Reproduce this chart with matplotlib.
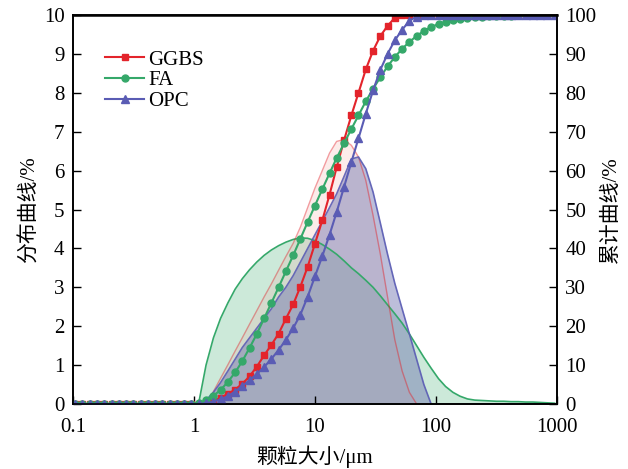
import matplotlib
matplotlib.use("Agg")
import matplotlib.pyplot as plt

plt.rcParams['font.family'] = ['Liberation Serif', 'Noto Sans CJK SC']
plt.rcParams['axes.unicode_minus'] = False

# particle size bins (um)
sizes = [0.105, 0.120, 0.138, 0.158, 0.182, 0.209, 0.240, 0.275, 0.316, 0.363,
         0.417, 0.479, 0.550, 0.631, 0.724, 0.832, 0.955,
         1.10, 1.26, 1.45, 1.66, 1.91, 2.19, 2.51, 2.88, 3.31, 3.80,
         4.37, 5.01, 5.75, 6.61, 7.59, 8.71, 10.0, 11.5, 13.2, 15.1,
         17.4, 20.0, 22.9, 26.3, 30.2, 34.7, 39.8, 45.7, 52.5, 60.3,
         69.2, 79.4, 91.2, 105, 120, 138, 158, 182, 209, 240,
         275, 316, 363, 417, 479, 550, 631, 724, 832, 955]

# distribution (%)
ggbs_dist = [0.0] * 17 + [
    0.0, 0.0, 0.32, 0.66, 1.01, 1.36, 1.70, 2.05, 2.40, 2.75,
    3.09, 3.44, 3.79, 4.13, 4.55, 5.05, 5.55, 6.0, 6.45, 6.75,
    6.8, 6.65, 6.35, 5.75, 4.85, 3.85, 2.75, 1.65, 0.85, 0.3,
    0.0] + [0.0] * 19
fa_dist = [0.0] * 17 + [
    0.05, 1.0, 1.7, 2.2, 2.6, 2.95, 3.22, 3.45, 3.65, 3.82,
    3.96, 4.07, 4.16, 4.23, 4.27, 4.26, 4.2, 4.1, 3.98, 3.85,
    3.68, 3.5, 3.35, 3.18, 3.0, 2.78, 2.55, 2.32, 2.08, 1.8,
    1.5, 1.2, 0.92, 0.65, 0.45, 0.3, 0.2, 0.13, 0.1, 0.09,
    0.08, 0.07, 0.07, 0.06, 0.06, 0.05, 0.05, 0.04, 0.03, 0.02]
opc_dist = [0.0] * 17 + [
    0.0, 0.1, 0.3, 0.55, 0.85, 1.15, 1.45, 1.7, 1.95, 2.2,
    2.45, 2.75, 3.0, 3.3, 3.65, 4.0, 4.35, 4.7, 5.05, 5.4,
    5.85, 6.3, 6.35, 6.05, 5.45, 4.65, 3.85, 3.1, 2.45, 1.8,
    1.15, 0.5, 0.0] + [0.0] * 17

# cumulative (%)
ggbs_cum = [0.0] * 17 + [
    0.0, 0.3, 0.8, 1.6, 2.6, 3.7, 5.2, 7.1, 9.6, 12.5,
    15.2, 18.1, 21.9, 25.6, 30.2, 35.3, 41.2, 47.2, 53.8, 60.8,
    67.8, 74.2, 80.0, 86.0, 90.8, 94.6, 97.2, 99.3, 100.0] + [100.0] * 21
fa_cum = [0.0] * 17 + [
    0.2, 1.0, 2.1, 3.6, 5.7, 8.1, 11.0, 14.4, 18.0, 22.0,
    26.0, 30.0, 34.1, 38.2, 42.5, 46.8, 51.0, 55.2, 59.3, 63.2,
    67.0, 70.7, 74.2, 77.8, 81.0, 84.0, 86.8, 89.2, 91.3, 93.1,
    94.6, 95.9, 96.9, 97.7, 98.3, 98.8, 99.1, 99.3, 99.5, 99.6,
    99.7, 99.75, 99.8, 99.85, 99.9, 99.9, 99.95, 100.0, 100.0, 100.0]
opc_cum = [0.0] * 17 + [
    0.0, 0.2, 0.6, 1.2, 2.0, 3.2, 4.6, 6.1, 7.7, 9.5,
    11.6, 13.9, 16.5, 19.5, 23.0, 27.6, 32.8, 38.0, 43.5, 49.3,
    55.8, 62.2, 68.3, 74.6, 80.6, 85.9, 90.0, 93.5, 96.2, 98.5,
    99.6, 100.0] + [100.0] * 18

red = '#e3242b'
green = '#35a86a'
blue = '#5a5cb4'

fig = plt.figure(figsize=(6.28, 4.69), dpi=100)
ax = fig.add_axes([0.116, 0.1386, 0.771, 0.8294])

ax.fill_between(sizes, fa_dist, color=green, alpha=0.25, lw=0)
ax.plot(sizes, fa_dist, color=green, lw=1.2)
ax.fill_between(sizes, ggbs_dist, color='#f4a09a', alpha=0.2, lw=0)
ax.plot(sizes, ggbs_dist, color=red, lw=1.0, alpha=0.45)
ax.fill_between(sizes, opc_dist, color='#6b70ad', alpha=0.45, lw=0)
ax.plot(sizes, opc_dist, color=blue, lw=1.2, alpha=0.9)

ax.set_xscale('log')
ax.set_xlim(0.1, 1000)
ax.set_ylim(0, 10)
ax.set_yticks(range(0, 11))
ax.set_xticks([0.1, 1, 10, 100, 1000])
ax.set_xticklabels(['0.1', '1', '10', '100', '1000'])
ax.xaxis.set_minor_locator(matplotlib.ticker.NullLocator())
ax.tick_params(direction='in', length=6, width=1, labelsize=15, pad=6)
ax.tick_params(axis='x', pad=10)
ax.set_xlabel('颗粒大小/μm', fontsize=15, labelpad=6)
ax.set_ylabel('分布曲线/%', fontsize=15, labelpad=3)

ax2 = ax.twinx()
ax2.plot(sizes, ggbs_cum, color=red, lw=1.5, marker='s', ms=5, label='GGBS')
ax2.plot(sizes, fa_cum, color=green, lw=1.5, marker='o', ms=5, label='FA')
ax2.plot(sizes, opc_cum, color=blue, lw=1.5, marker='^', ms=5.5, label='OPC')
ax2.set_ylim(0, 100)
ax2.set_yticks(range(0, 101, 10))
ax2.tick_params(direction='in', length=6, width=1, labelsize=15, pad=6)
ax2.set_ylabel('累计曲线/%', fontsize=15, labelpad=4)

for a in (ax, ax2):
    for s in a.spines.values():
        s.set_linewidth(1.2)
ax2.spines['top'].set_linewidth(1.8)

leg = ax2.legend(loc='upper left', bbox_to_anchor=(0.066, 0.91), frameon=False,
                 fontsize=15, handlelength=1.9, handletextpad=0.2,
                 labelspacing=0.05, borderaxespad=0, borderpad=0)

fig.savefig('out.png', dpi=100)
